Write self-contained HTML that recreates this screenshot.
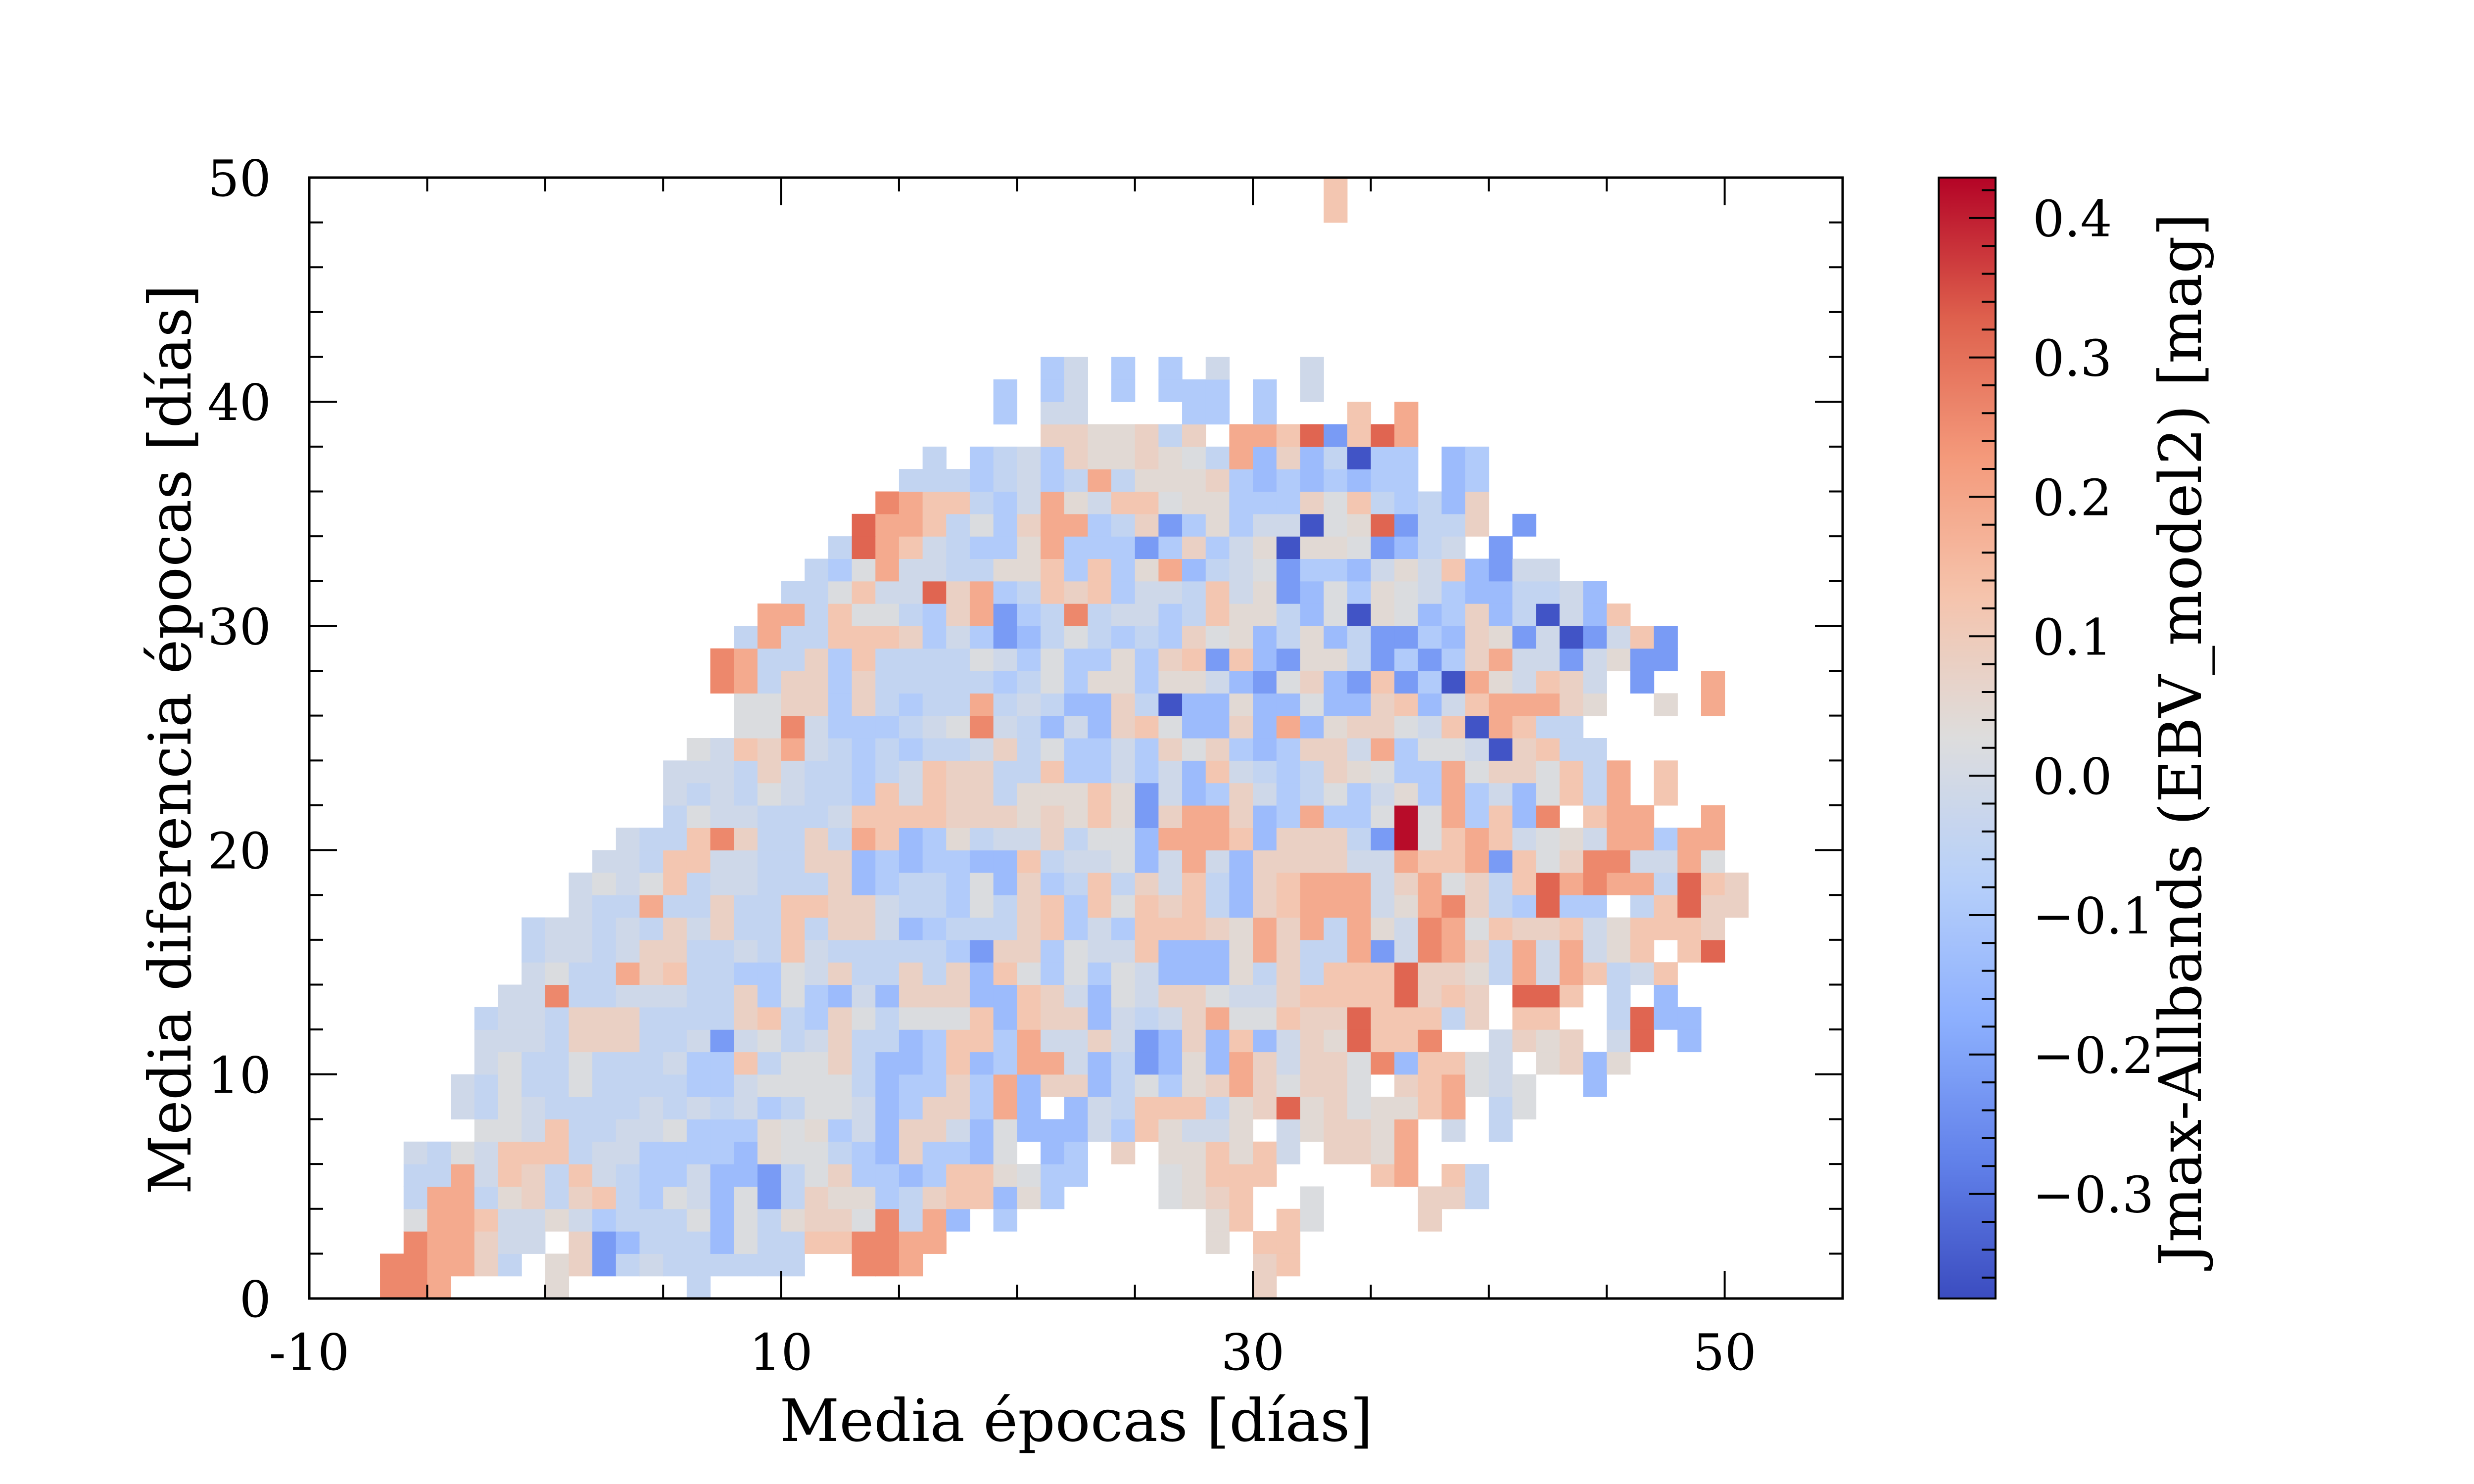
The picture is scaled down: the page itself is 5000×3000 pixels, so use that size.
<!DOCTYPE html>
<html><head><meta charset="utf-8">
<style>
html,body{margin:0;padding:0;background:#fff;}
svg{display:block;}
text{font-family:"DejaVu Serif","Liberation Serif",serif;fill:#000;}
</style></head>
<body>
<svg id="chart" width="5000" height="3000" viewBox="0 0 5000 3000" xmlns="http://www.w3.org/2000/svg">
<defs><linearGradient id="cbgrad" x1="0" y1="1" x2="0" y2="0"></linearGradient></defs>
<g id="cells"></g>
<g id="axes"></g>
<g id="cbar"></g>
<text x="2175" y="2913" font-size="118" text-anchor="middle">Media épocas [días]</text>
<text transform="translate(385,1495) rotate(-90)" font-size="118" text-anchor="middle">Media diferencia épocas [días]</text>
<text transform="translate(4448,1495) rotate(-90)" font-size="118" text-anchor="middle">Jmax-Allbands (EBV_model2) [mag]</text>
</svg>
<script>
// ---- data ----
const codeKeys = ["A","a","b","c","d","e","f","g","h","i","j","k","m","n"];
const codeVals = [-0.36,-0.22,-0.14,-0.09,-0.045,-0.015,0.02,0.045,0.08,0.12,0.19,0.26,0.32,0.42];
const rowY = [0,1,2,3,4,5,6,7,8,9,10,11,12,13,14,15,16,17,18,19,20,21,22,23,24,25,26,27,28,29,30,31,32,33,34,35,36,37,38,39,40,41,48,49];
const rowStartX = [-7,-7,-6,-6,-6,-6,-6,-3,-4,-4,-3,-3,-3,-2,-1,-1,-1,1,1,2,3,5,5,5,6,8,8,7,7,8,9,10,11,12,13,14,15,16,21,19,19,21,33,33];
const rowCodes = [
"kkj....g.....d.......................h",
"kkjjhd.ghadedddddd..kkj..............hi",
"kjjhee.habdddbfddiikkjj...........g.ii",
"fjjieegecdddfbfdghhfkdjb.c........gi.if....h",
"djjdghdhidcfebfadhggcdhiibgc....fghi..f....hhd",
"ddjeihdiedccebbadfhccbciigfcc...fgiii....ij.id",
"edfeiiideeccccbgffdcbhccbf.bc.h.ggigie.hhgj",
"ffeiddeefcccgfgcebhhebfbbbecigeeg.eghhgj.e.d",
"edfeddddededecdffebchhcjb.bediiidghmghfggij.df",
"edfddfddddcceffffdbcchcjbhhbdfcghjhfhhf.hijfef..b",
"efddfdddeccidffhdbbcibcjjebdabgbjhehhfkbiife.ghbg",
"eeedhhhddeaefdehddbciicjeeheabhbibehgmiik..ehgh.em.b",
"deedhhhddddhidchfdfffibihhbedehjffihhmiiidh.ii..dmbb",
"eekddeeeddhcfcbebhhhbbihebfehhfeehiiiimhih.mmi.d.b",
"efddjhiddccfehddhdhbifcfcfebbbgdhdiiimhhgdjejidei",
"deedehhddediedddddcahhcfeeibbbgjhddjaekjhdjejegi.im",
"deededhehddidhhebcdddhiceciiihgjhjdjgekjfihhiegiiih",
"eddjddhddiihheddcfdhicifihidbhijjjegjkhdcmcc.dimhh",
"efefideedddhbcddcfbhcdidheidbhijjjehjfhdimjkjjdmih",
"eediieeddhhbcbccbbideefbejebhhhheejiijaifhkkeejf",
"eddikhddhdjibcgdeehdffbjjjibhhhdanfijiefgejjcjj",
"dfeedddeiiiihhhghgigahjjhbcjccfnfjcibk.ijj..j",
"ededfeddcieihhdgggigaebchecdfcegcjcebfidj.i",
"eeedheddcdeihhddiccecebiedcdhgfccjfhhfidj.i",
"feihjedcdcddehdfccechfhcbchhejcffeAhidd",
"ffkecccdefkedbebhifbbhbjbghhfeiAjidd",
"ffhhchdcddjdedbbhdAbbgbbfbbhibeijjjhg..g.j",
"kjdhhchdddddcdfcggcggebafhbaiacAjgeihe.a..j",
"kjddhciddddfecfccgchiaibaggdacachjeeaegaa",
"djddiiihcecabdfdcdchfgbdgbdaacbhgaeAaeia",
"jjdiffdchjacdkdeecdiggdbfAgfbchbdAebi",
"ddfieemhjcdihiceediegabfcgfecbbddeb",
"dcfjeeddggicicgjbdefaccbegeibaee",
"dmjiedccgjcccachcegAggfabde.a",
"mjjidfchjjcdhacgceeAfgmaddh.a",
"kjiidcejgeiifggccchfidcdbh",
"dddcdecdjdggghcbcbcbcc.bc",
"d.cdechgghgfdjbhbdAcc.bc",
"hhgghdh.jjimaimj",
"c.ee....cc.c...i.j",
"c.ce.c.ccc.c.e",
"ce.c.c.e...e",
"i",
"i"
];
const xTickVals = [-10,10,30,50];
const yTickVals = [0,10,20,30,40,50];
const cbTickVals = [-0.3,-0.2,-0.1,0.0,0.1,0.2,0.3,0.4];
const cbTickLabels = ["\u22120.3","\u22120.2","\u22120.1","0.0","0.1","0.2","0.3","0.4"];

// ---- scales ----
const X0=625, X1=3724, Y0=2625, Y1=359;
const xMin=-10, xMax=55, yMin=0, yMax=50;
const vMin=-0.375, vMax=0.429;
function sx(v){return X0+(v-xMin)/(xMax-xMin)*(X1-X0);}
function sy(v){return Y0-(v-yMin)/(yMax-yMin)*(Y0-Y1);}
const CB_X0=3918, CB_X1=4033;
function cy(v){return Y0-(v-vMin)/(vMax-vMin)*(Y0-Y1);}
const stops=[[59,76,192],[98,130,234],[141,176,254],[184,208,249],[221,221,221],[245,196,173],[244,154,123],[222,96,77],[180,4,38]];
function cmap(v){
  let t=(v-vMin)/(vMax-vMin); t=Math.max(0,Math.min(1,t));
  const p=t*8, i=Math.min(7,Math.floor(p)), f=p-i;
  const a=stops[i], b=stops[i+1];
  return "rgb("+[0,1,2].map(k=>Math.round(a[k]+(b[k]-a[k])*f)).join(",")+")";
}
const NS="http://www.w3.org/2000/svg";
function mk(tag,attrs,parent){const e=document.createElementNS(NS,tag);for(const k in attrs)e.setAttribute(k,attrs[k]);parent.appendChild(e);return e;}

// ---- cells ----
const cells=document.getElementById("cells");
rowCodes.forEach((s,r)=>{
  const y=rowY[r];
  for(let i=0;i<s.length;i++){
    const c=s[i]; const idx=codeKeys.indexOf(c); if(idx<0) continue;
    const x=rowStartX[r]+i;
    const x0=sx(x), x1=sx(x+1), y0=sy(y+1), y1=sy(y);
    const el=mk("rect",{x:x0,y:y0,width:x1-x0+0.6,height:y1-y0+0.6,fill:cmap(codeVals[idx])},cells);
    
    
  }
});

// ---- axes ----
const axes=document.getElementById("axes");
const frame=mk("rect",{x:X0,y:Y1,width:X1-X0,height:Y0-Y1,fill:"none",stroke:"#000","stroke-width":5},axes);


for(let v=-10;v<=55;v+=5){
  const major=xTickVals.indexOf(v)>=0, L=major?56:28, x=sx(v);
  mk("line",{x1:x,y1:Y0,x2:x,y2:Y0-L,stroke:"#000","stroke-width":4},axes);
  mk("line",{x1:x,y1:Y1,x2:x,y2:Y1+L,stroke:"#000","stroke-width":4},axes);
}
for(let v=0;v<=50;v+=2){
  const major=v%10===0, L=major?56:28, y=sy(v);
  mk("line",{x1:X0,y1:y,x2:X0+L,y2:y,stroke:"#000","stroke-width":4},axes);
  mk("line",{x1:X1,y1:y,x2:X1-L,y2:y,stroke:"#000","stroke-width":4},axes);
}
xTickVals.forEach(v=>{
  const t=mk("text",{x:sx(v),y:2769,"font-size":101,"text-anchor":"middle"},axes);
  t.textContent=String(v);
  
  
});
yTickVals.forEach(v=>{
  const t=mk("text",{x:548,y:sy(v)+37,"font-size":101,"text-anchor":"end"},axes);
  t.textContent=String(v);
  
  
});

// ---- colorbar ----
const grad=document.getElementById("cbgrad");
for(let k=0;k<=40;k++){const t=k/40;mk("stop",{offset:t,"stop-color":cmap(vMin+t*(vMax-vMin))},grad);}
const cb=document.getElementById("cbar");
const cbr=mk("rect",{x:CB_X0,y:Y1,width:CB_X1-CB_X0,height:Y0-Y1,fill:"url(#cbgrad)",stroke:"#000","stroke-width":4},cb);


for(let k=-18;k<=21;k++){
  const v=k*0.02; if(v<vMin||v>vMax) continue;
  const major=(k%5===0), L=major?54:28, y=cy(v);
  mk("line",{x1:CB_X1,y1:y,x2:CB_X1-L,y2:y,stroke:"#000","stroke-width":4},cb);
}
cbTickVals.forEach((v,i)=>{
  const t=mk("text",{x:4108,y:cy(v)+37,"font-size":101},cb);
  t.textContent=cbTickLabels[i];
  
  
});
</script>
</body></html>
